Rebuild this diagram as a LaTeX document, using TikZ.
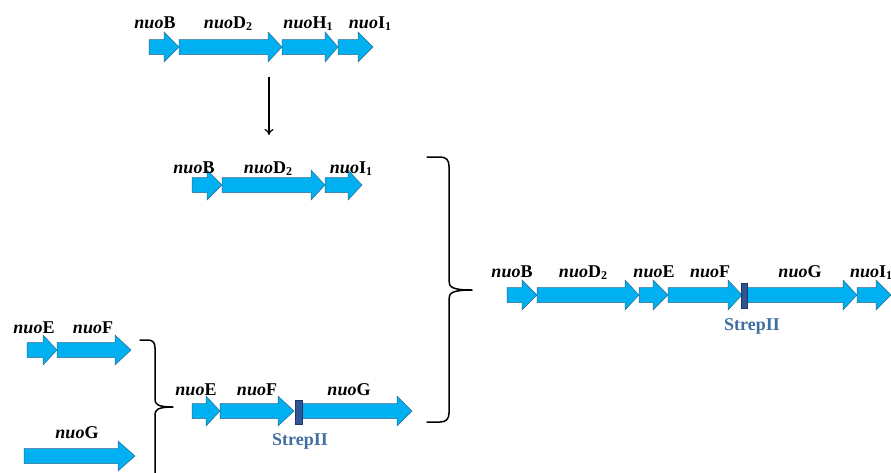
\documentclass[tikz,border=0pt]{standalone}
\usepackage{fontspec}
\setmainfont{Liberation Serif}
\usetikzlibrary{arrows.meta}
\definecolor{genefill}{HTML}{00B0F0}
\definecolor{geneline}{RGB}{50,105,140}
\definecolor{tagfill}{HTML}{2F5597}
\definecolor{tagline}{HTML}{1F3864}
\definecolor{tagtext}{RGB}{65,110,160}
\tikzset{
  gene/.style={fill=genefill, draw=geneline, line width=0.5pt, line join=miter},
  tagbox/.style={fill=tagfill, draw=tagline, line width=0.5pt},
  lbl/.style={font=\bfseries\fontsize{18}{20}\selectfont, inner sep=0pt, anchor=base},
  taglbl/.style={lbl, text=tagtext},
  bracket/.style={draw=black, line width=1.5pt, line cap=round, line join=round},
  flow/.style={draw=black, line width=1.2pt, -{To[length=6pt,width=9pt]}}
}
\newcommand\genearr[5]{%
  \path[gene] (#2,#5-7.5) -- (#3,#5-7.5) -- (#3,#5-15) -- (#4,#5) -- (#3,#5+15) -- (#3,#5+7.5) -- (#2,#5+7.5) -- cycle;
  \coordinate (#1) at (#2,#5);}
\newcommand\gsub[1]{\raisebox{-0.28ex}{\fontsize{12}{12}\selectfont #1}}
\begin{document}
\begin{tikzpicture}[x=1pt,y=-1pt]
\useasboundingbox (0,0) rectangle (891,472);
% top row
\genearr{tB}{149}{164}{179}{47}
\genearr{tD}{179}{268}{282}{47}
\genearr{tH}{282}{325}{338}{47}
\genearr{tI}{338}{358}{373}{47}
\node[lbl] (ltB) at (155,28) {\textit{nuo}B};
\node[lbl] (ltD) at (228,28) {\textit{nuo}D\gsub{2}};
\node[lbl] (ltH) at (308,28) {\textit{nuo}H\gsub{1}};
\node[lbl] (ltI) at (370,28) {\textit{nuo}I\gsub{1}};
% vertical arrow
\coordinate (vA) at (269,77);
\coordinate (vB) at (269,135);
\draw[flow] (vA) -- (vB);
% middle row
\genearr{mB}{192}{207}{222}{185}
\genearr{mD}{222}{311}{325}{185}
\genearr{mI}{325}{348}{362}{185}
\node[lbl] (lmB) at (194,173) {\textit{nuo}B};
\node[lbl] (lmD) at (268,173) {\textit{nuo}D\gsub{2}};
\node[lbl] (lmI) at (351,173) {\textit{nuo}I\gsub{1}};
% left group
\genearr{lE}{27}{43}{57}{350}
\genearr{lF}{57}{115}{131}{350}
\genearr{lG}{24}{118}{135}{456}
\node[lbl] (llE) at (34,333) {\textit{nuo}E};
\node[lbl] (llF) at (93,333) {\textit{nuo}F};
\node[lbl] (llG) at (77,438) {\textit{nuo}G};
% left brace
\path[bracket] (140,340) -- (148,340) .. controls (153,340) and (155,343) .. (155,348)
  -- (155,399) .. controls (155,404) and (157,407) .. (173,407)
  .. controls (157,407) and (155,410) .. (155,415) -- (155,474);
% bottom middle row
\genearr{bE}{192}{206}{220}{411}
\genearr{bF}{220}{278}{294}{411}
\genearr{bG}{302}{397}{412}{411}
\path[tagbox] (295,400) rectangle (302,424);
\node[lbl] (lbE) at (196,395) {\textit{nuo}E};
\node[lbl] (lbF) at (257,395) {\textit{nuo}F};
\node[lbl] (lbG) at (349,395) {\textit{nuo}G};
\node[taglbl] (lbS) at (300,445) {StrepII};
% big right brace
\path[bracket] (427,157) -- (440,157) .. controls (446,157) and (449,160) .. (449,166)
  -- (449,281) .. controls (449,287) and (452,290) .. (472,290)
  .. controls (452,290) and (449,293) .. (449,299)
  -- (449,413) .. controls (449,419) and (446,422) .. (440,422) -- (427,422);
% right row
\genearr{rB}{507}{522}{537}{295}
\genearr{rD}{537}{625}{639}{295}
\genearr{rE}{639}{653}{668}{295}
\genearr{rF}{668}{728}{742}{295}
\genearr{rG}{747}{843}{857}{295}
\genearr{rI}{857}{876}{891}{295}
\path[tagbox] (741,283) rectangle (747,308);
\node[lbl] (lrB) at (512,277) {\textit{nuo}B};
\node[lbl] (lrD) at (583,277) {\textit{nuo}D\gsub{2}};
\node[lbl] (lrE) at (654,277) {\textit{nuo}E};
\node[lbl] (lrF) at (710,277) {\textit{nuo}F};
\node[lbl] (lrG) at (800,277) {\textit{nuo}G};
\node[lbl, anchor=base west] (lrI) at (850,277) {\textit{nuo}I\gsub{1}};
\node[taglbl] (lrS) at (752,330) {StrepII};
\end{tikzpicture}
\end{document}
